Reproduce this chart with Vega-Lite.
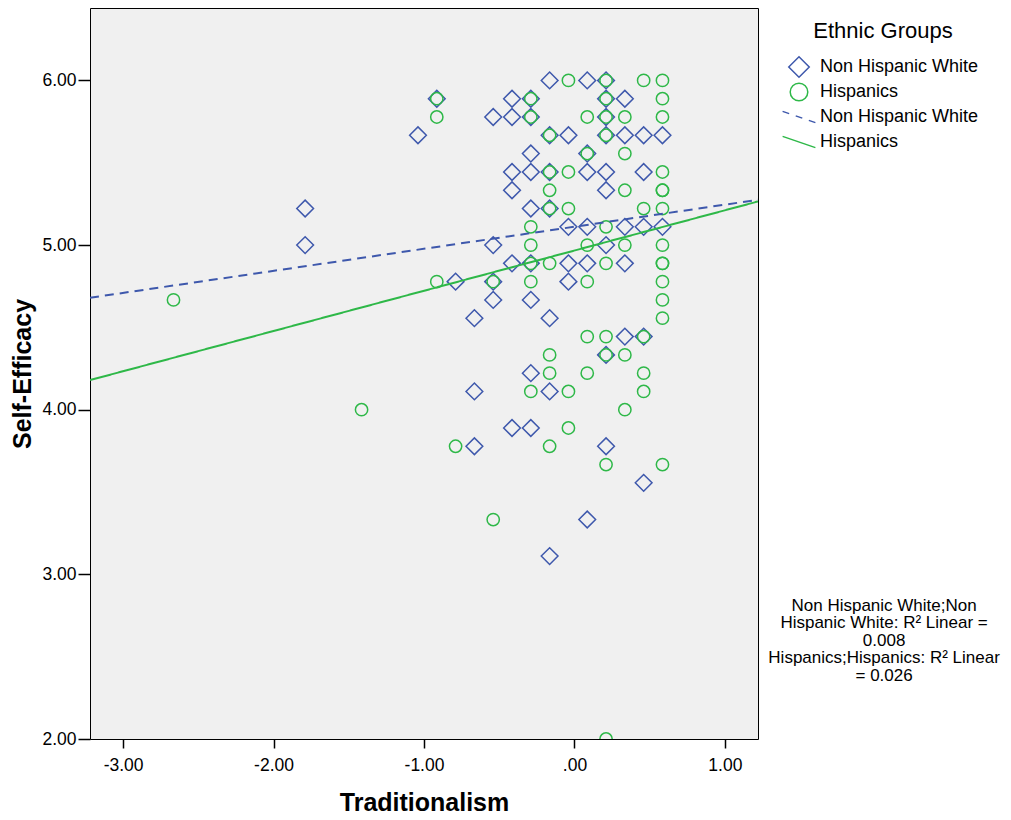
{
  "$schema": "https://vega.github.io/schema/vega-lite/v6.json",
  "autosize": "none",
  "width": 668,
  "height": 731,
  "padding": {"left": 90, "top": 8, "right": 253, "bottom": 81},
  "background": "#ffffff",
  "config": {
    "font": "Liberation Sans",
    "view": {"fill": "#F0F0F0", "stroke": "#000000", "strokeWidth": 1},
    "axis": {"domain": false, "grid": false, "labelColor": "#000000", "tickColor": "#000000", "titleColor": "#000000", "labelFontSize": 17.5, "titleFontSize": 25, "titleFontWeight": "bold", "tickWidth": 1.5}
  },
  "datasets": {
    "points": [
      {"trad": -0.165, "se": 6.000, "group": "Non Hispanic White"},
      {"trad": 0.085, "se": 6.000, "group": "Non Hispanic White"},
      {"trad": 0.21, "se": 6.000, "group": "Non Hispanic White"},
      {"trad": -0.915, "se": 5.889, "group": "Non Hispanic White"},
      {"trad": -0.415, "se": 5.889, "group": "Non Hispanic White"},
      {"trad": -0.29, "se": 5.889, "group": "Non Hispanic White"},
      {"trad": 0.21, "se": 5.889, "group": "Non Hispanic White"},
      {"trad": 0.335, "se": 5.889, "group": "Non Hispanic White"},
      {"trad": -0.54, "se": 5.778, "group": "Non Hispanic White"},
      {"trad": -0.415, "se": 5.778, "group": "Non Hispanic White"},
      {"trad": -0.29, "se": 5.778, "group": "Non Hispanic White"},
      {"trad": 0.21, "se": 5.778, "group": "Non Hispanic White"},
      {"trad": -1.04, "se": 5.667, "group": "Non Hispanic White"},
      {"trad": -0.165, "se": 5.667, "group": "Non Hispanic White"},
      {"trad": -0.04, "se": 5.667, "group": "Non Hispanic White"},
      {"trad": 0.21, "se": 5.667, "group": "Non Hispanic White"},
      {"trad": 0.335, "se": 5.667, "group": "Non Hispanic White"},
      {"trad": 0.46, "se": 5.667, "group": "Non Hispanic White"},
      {"trad": 0.585, "se": 5.667, "group": "Non Hispanic White"},
      {"trad": -0.29, "se": 5.556, "group": "Non Hispanic White"},
      {"trad": 0.085, "se": 5.556, "group": "Non Hispanic White"},
      {"trad": -0.415, "se": 5.444, "group": "Non Hispanic White"},
      {"trad": -0.29, "se": 5.444, "group": "Non Hispanic White"},
      {"trad": -0.165, "se": 5.444, "group": "Non Hispanic White"},
      {"trad": 0.085, "se": 5.444, "group": "Non Hispanic White"},
      {"trad": 0.21, "se": 5.444, "group": "Non Hispanic White"},
      {"trad": 0.46, "se": 5.444, "group": "Non Hispanic White"},
      {"trad": -0.415, "se": 5.333, "group": "Non Hispanic White"},
      {"trad": 0.21, "se": 5.333, "group": "Non Hispanic White"},
      {"trad": -1.79, "se": 5.222, "group": "Non Hispanic White"},
      {"trad": -0.29, "se": 5.222, "group": "Non Hispanic White"},
      {"trad": -0.165, "se": 5.222, "group": "Non Hispanic White"},
      {"trad": -0.04, "se": 5.111, "group": "Non Hispanic White"},
      {"trad": 0.085, "se": 5.111, "group": "Non Hispanic White"},
      {"trad": 0.335, "se": 5.111, "group": "Non Hispanic White"},
      {"trad": 0.46, "se": 5.111, "group": "Non Hispanic White"},
      {"trad": 0.585, "se": 5.111, "group": "Non Hispanic White"},
      {"trad": -1.79, "se": 5.000, "group": "Non Hispanic White"},
      {"trad": -0.54, "se": 5.000, "group": "Non Hispanic White"},
      {"trad": 0.21, "se": 5.000, "group": "Non Hispanic White"},
      {"trad": -0.415, "se": 4.889, "group": "Non Hispanic White"},
      {"trad": -0.29, "se": 4.889, "group": "Non Hispanic White"},
      {"trad": -0.04, "se": 4.889, "group": "Non Hispanic White"},
      {"trad": 0.085, "se": 4.889, "group": "Non Hispanic White"},
      {"trad": 0.335, "se": 4.889, "group": "Non Hispanic White"},
      {"trad": -0.79, "se": 4.778, "group": "Non Hispanic White"},
      {"trad": -0.54, "se": 4.778, "group": "Non Hispanic White"},
      {"trad": -0.04, "se": 4.778, "group": "Non Hispanic White"},
      {"trad": -0.54, "se": 4.667, "group": "Non Hispanic White"},
      {"trad": -0.29, "se": 4.667, "group": "Non Hispanic White"},
      {"trad": -0.665, "se": 4.556, "group": "Non Hispanic White"},
      {"trad": -0.165, "se": 4.556, "group": "Non Hispanic White"},
      {"trad": 0.335, "se": 4.444, "group": "Non Hispanic White"},
      {"trad": 0.46, "se": 4.444, "group": "Non Hispanic White"},
      {"trad": 0.21, "se": 4.333, "group": "Non Hispanic White"},
      {"trad": -0.29, "se": 4.222, "group": "Non Hispanic White"},
      {"trad": -0.665, "se": 4.111, "group": "Non Hispanic White"},
      {"trad": -0.165, "se": 4.111, "group": "Non Hispanic White"},
      {"trad": -0.415, "se": 3.889, "group": "Non Hispanic White"},
      {"trad": -0.29, "se": 3.889, "group": "Non Hispanic White"},
      {"trad": -0.665, "se": 3.778, "group": "Non Hispanic White"},
      {"trad": 0.21, "se": 3.778, "group": "Non Hispanic White"},
      {"trad": 0.46, "se": 3.556, "group": "Non Hispanic White"},
      {"trad": 0.085, "se": 3.333, "group": "Non Hispanic White"},
      {"trad": -0.165, "se": 3.111, "group": "Non Hispanic White"},
      {"trad": -0.04, "se": 6.000, "group": "Hispanics"},
      {"trad": 0.21, "se": 6.000, "group": "Hispanics"},
      {"trad": 0.46, "se": 6.000, "group": "Hispanics"},
      {"trad": 0.585, "se": 6.000, "group": "Hispanics"},
      {"trad": -0.915, "se": 5.889, "group": "Hispanics"},
      {"trad": -0.29, "se": 5.889, "group": "Hispanics"},
      {"trad": 0.21, "se": 5.889, "group": "Hispanics"},
      {"trad": 0.585, "se": 5.889, "group": "Hispanics"},
      {"trad": -0.915, "se": 5.778, "group": "Hispanics"},
      {"trad": -0.29, "se": 5.778, "group": "Hispanics"},
      {"trad": 0.085, "se": 5.778, "group": "Hispanics"},
      {"trad": 0.21, "se": 5.778, "group": "Hispanics"},
      {"trad": 0.335, "se": 5.778, "group": "Hispanics"},
      {"trad": 0.585, "se": 5.778, "group": "Hispanics"},
      {"trad": -0.165, "se": 5.667, "group": "Hispanics"},
      {"trad": 0.21, "se": 5.667, "group": "Hispanics"},
      {"trad": 0.085, "se": 5.556, "group": "Hispanics"},
      {"trad": 0.335, "se": 5.556, "group": "Hispanics"},
      {"trad": -0.165, "se": 5.444, "group": "Hispanics"},
      {"trad": -0.04, "se": 5.444, "group": "Hispanics"},
      {"trad": 0.585, "se": 5.444, "group": "Hispanics"},
      {"trad": -0.165, "se": 5.333, "group": "Hispanics"},
      {"trad": 0.335, "se": 5.333, "group": "Hispanics"},
      {"trad": 0.585, "se": 5.333, "group": "Hispanics"},
      {"trad": 0.585, "se": 5.333, "group": "Hispanics"},
      {"trad": -0.165, "se": 5.222, "group": "Hispanics"},
      {"trad": -0.04, "se": 5.222, "group": "Hispanics"},
      {"trad": 0.46, "se": 5.222, "group": "Hispanics"},
      {"trad": 0.585, "se": 5.222, "group": "Hispanics"},
      {"trad": -0.29, "se": 5.111, "group": "Hispanics"},
      {"trad": 0.21, "se": 5.111, "group": "Hispanics"},
      {"trad": -0.29, "se": 5.000, "group": "Hispanics"},
      {"trad": 0.085, "se": 5.000, "group": "Hispanics"},
      {"trad": 0.335, "se": 5.000, "group": "Hispanics"},
      {"trad": 0.585, "se": 5.000, "group": "Hispanics"},
      {"trad": -0.29, "se": 4.889, "group": "Hispanics"},
      {"trad": -0.165, "se": 4.889, "group": "Hispanics"},
      {"trad": 0.21, "se": 4.889, "group": "Hispanics"},
      {"trad": 0.585, "se": 4.889, "group": "Hispanics"},
      {"trad": 0.585, "se": 4.889, "group": "Hispanics"},
      {"trad": -0.915, "se": 4.778, "group": "Hispanics"},
      {"trad": -0.54, "se": 4.778, "group": "Hispanics"},
      {"trad": -0.29, "se": 4.778, "group": "Hispanics"},
      {"trad": 0.085, "se": 4.778, "group": "Hispanics"},
      {"trad": 0.585, "se": 4.778, "group": "Hispanics"},
      {"trad": -2.665, "se": 4.667, "group": "Hispanics"},
      {"trad": 0.585, "se": 4.667, "group": "Hispanics"},
      {"trad": 0.585, "se": 4.556, "group": "Hispanics"},
      {"trad": 0.085, "se": 4.444, "group": "Hispanics"},
      {"trad": 0.21, "se": 4.444, "group": "Hispanics"},
      {"trad": 0.46, "se": 4.444, "group": "Hispanics"},
      {"trad": -0.165, "se": 4.333, "group": "Hispanics"},
      {"trad": 0.21, "se": 4.333, "group": "Hispanics"},
      {"trad": 0.335, "se": 4.333, "group": "Hispanics"},
      {"trad": -0.165, "se": 4.222, "group": "Hispanics"},
      {"trad": 0.085, "se": 4.222, "group": "Hispanics"},
      {"trad": 0.46, "se": 4.222, "group": "Hispanics"},
      {"trad": -0.29, "se": 4.111, "group": "Hispanics"},
      {"trad": -0.04, "se": 4.111, "group": "Hispanics"},
      {"trad": 0.46, "se": 4.111, "group": "Hispanics"},
      {"trad": -1.415, "se": 4.000, "group": "Hispanics"},
      {"trad": 0.335, "se": 4.000, "group": "Hispanics"},
      {"trad": -0.04, "se": 3.889, "group": "Hispanics"},
      {"trad": -0.79, "se": 3.778, "group": "Hispanics"},
      {"trad": -0.165, "se": 3.778, "group": "Hispanics"},
      {"trad": 0.21, "se": 3.667, "group": "Hispanics"},
      {"trad": 0.585, "se": 3.667, "group": "Hispanics"},
      {"trad": -0.54, "se": 3.333, "group": "Hispanics"},
      {"trad": 0.21, "se": 2.000, "group": "Hispanics"}
    ],
    "fits": [
      {"trad": -3.22, "se": 4.68, "group": "Non Hispanic White"},
      {"trad": 1.22, "se": 5.275, "group": "Non Hispanic White"},
      {"trad": -3.22, "se": 4.18, "group": "Hispanics"},
      {"trad": 1.22, "se": 5.265, "group": "Hispanics"}
    ],
    "note": [
      {"label": ["Non Hispanic White;Non", "Hispanic White: R² Linear =", "0.008", "Hispanics;Hispanics: R² Linear", "= 0.026"]}
    ]
  },
  "layer": [
    {
      "data": {"name": "points"},
      "mark": {"type": "point", "filled": false, "strokeWidth": 1.5, "opacity": 1, "clip": true},
      "encoding": {
        "x": {"field": "trad", "type": "quantitative", "scale": {"domain": [-3.22, 1.22], "nice": false, "zero": false},
          "axis": {"values": [-3, -2, -1, 0, 1], "labelExpr": "datum.value == 0 ? '.00' : (datum.value < 0 ? '-' : '') + format(abs(datum.value), '.2f')", "tickSize": 9, "labelPadding": 8, "title": "Traditionalism", "titlePadding": 17}},
        "y": {"field": "se", "type": "quantitative", "scale": {"domain": [2, 6.44], "nice": false, "zero": false},
          "axis": {"values": [2, 3, 4, 5, 6], "format": ".2f", "tickSize": 12, "labelPadding": 2, "title": "Self-Efficacy", "titlePadding": 6}},
        "color": {"field": "group", "type": "nominal",
          "scale": {"domain": ["Non Hispanic White", "Hispanics", "Non Hispanic White fit", "Hispanics fit"], "range": ["#3E58AC", "#2EB848", "#3E58AC", "#2EB848"]},
          "legend": {"title": "Ethnic Groups", "orient": "none", "legendX": 698, "legendY": 13,
            "titleFontSize": 22, "titleFontWeight": "normal", "titleColor": "#000000", "titleAnchor": "middle", "titlePadding": 13,
            "labelFontSize": 18, "labelColor": "#000000", "labelOffset": 10, "rowPadding": -8, "gridAlign": "all",
            "symbolSize": 420, "symbolStrokeWidth": 1.5, "symbolFillColor": "transparent",
            "labelExpr": "replace(datum.label, ' fit', '')"}},
        "shape": {"field": "group", "type": "nominal",
          "scale": {"domain": ["Non Hispanic White", "Hispanics", "Non Hispanic White fit", "Hispanics fit"], "range": ["diamond", "M0.857,0A0.857,0.857 0 1,1 -0.857,0A0.857,0.857 0 1,1 0.857,0Z", "M-1.6,-0.55L-0.96,-0.33M-0.32,-0.11L0.32,0.11M0.96,0.33L1.6,0.55", "M-1.6,-0.55L1.6,0.55"]}},
        "size": {"condition": {"test": "datum.group == 'Hispanics'", "value": 206}, "value": 280}
      }
    },
    {
      "data": {"name": "fits"},
      "mark": {"type": "line", "strokeWidth": 2, "clip": true},
      "encoding": {
        "x": {"field": "trad", "type": "quantitative"},
        "y": {"field": "se", "type": "quantitative"},
        "detail": {"field": "group", "type": "nominal"},
        "color": {"condition": {"test": "datum.group == 'Hispanics'", "value": "#2EB848"}, "value": "#3E58AC"},
        "strokeDash": {"condition": {"test": "datum.group == 'Hispanics'", "value": [1, 0]}, "value": [9, 6]}
      }
    },
    {
      "data": {"name": "note"},
      "mark": {"type": "text", "align": "center", "baseline": "alphabetic", "fontSize": 17, "lineHeight": 17.5, "color": "#000000"},
      "encoding": {
        "x": {"datum": 2.058},
        "y": {"datum": 2.778},
        "text": {"field": "label"}
      }
    }
  ]
}
